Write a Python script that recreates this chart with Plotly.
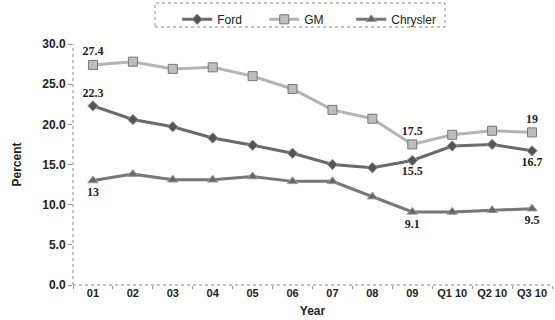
import plotly.graph_objects as go

categories = ["01", "02", "03", "04", "05", "06", "07", "08", "09", "Q1 10", "Q2 10", "Q3 10"]
ford = [22.3, 20.6, 19.7, 18.3, 17.4, 16.4, 15.0, 14.6, 15.5, 17.3, 17.5, 16.7]
gm = [27.4, 27.8, 26.9, 27.1, 26.0, 24.4, 21.8, 20.7, 17.5, 18.7, 19.2, 19.0]
chrysler = [13.0, 13.8, 13.1, 13.1, 13.5, 12.9, 12.9, 11.0, 9.1, 9.1, 9.3, 9.5]

ford_labels = ["22.3", "", "", "", "", "", "", "", "15.5", "", "", "16.7"]
gm_labels = ["27.4", "", "", "", "", "", "", "", "17.5", "", "", "19"]
chrysler_labels = ["13", "", "", "", "", "", "", "", "9.1", "", "", "9.5"]

ford_pos = ["top center"] * 8 + ["bottom center", "top center", "top center", "bottom center"]
gm_pos = ["top center"] * 12
chrysler_pos = ["bottom center"] * 12

def bold(lst):
    return ["<b>%s</b>" % s if s else "" for s in lst]

label_font = dict(family="Liberation Serif", size=12, color="#222222")

fig = go.Figure()
fig.add_trace(go.Scatter(x=categories, y=ford, name="Ford", mode="lines+markers+text",
                         line=dict(color="#6a6a6a", width=3),
                         marker=dict(symbol="diamond", size=8, color="#555555", line=dict(color="#999999", width=1)),
                         text=bold(ford_labels), textposition=ford_pos, textfont=label_font))
fig.add_trace(go.Scatter(x=categories, y=gm, name="GM", mode="lines+markers+text",
                         line=dict(color="#b4b4b4", width=3),
                         marker=dict(symbol="square", size=9, color="#bdbdbd", line=dict(color="#777777", width=1)),
                         text=bold(gm_labels), textposition=gm_pos, textfont=label_font))
fig.add_trace(go.Scatter(x=categories, y=chrysler, name="Chrysler", mode="lines+markers+text",
                         line=dict(color="#777777", width=3),
                         marker=dict(symbol="triangle-up", size=9, color="#666666", line=dict(color="#999999", width=1)),
                         text=bold(chrysler_labels), textposition=chrysler_pos, textfont=label_font))

tick_font = dict(family="Liberation Sans", size=11, color="#222222")

fig.update_layout(
    width=555, height=320,
    margin=dict(l=73, r=3, t=44, b=35),
    paper_bgcolor="white", plot_bgcolor="white",
    showlegend=True,
    legend=dict(orientation="h", x=0.49, xanchor="center", y=0.985, yanchor="top",
                yref="container", font=dict(family="Liberation Sans", size=12, color="#222222"),
                entrywidth=42, entrywidthmode="pixels", bgcolor="rgba(0,0,0,0)"),
    xaxis=dict(type="category", range=[-0.5, 11.5], showgrid=False, showline=False, zeroline=False,
               ticks="outside", tickson="boundaries", ticklen=3, tickcolor="#999999",
               tickfont=tick_font, tickangle=0, automargin=False,
               title=dict(text="<b>Year</b>", font=dict(family="Liberation Sans", size=12, color="#222222"), standoff=8)),
    yaxis=dict(range=[0, 30], tickvals=[0, 5, 10, 15, 20, 25, 30],
               ticktext=["<b>0.0</b>", "<b>5.0</b>", "<b>10.0</b>", "<b>15.0</b>", "<b>20.0</b>", "<b>25.0</b>", "<b>30.0</b>"],
               showgrid=False, showline=False, zeroline=False, ticks="outside", ticklen=4, tickcolor="#999999",
               tickfont=dict(family="Liberation Sans", size=12, color="#222222"), automargin=False,
               title=dict(text="<b>Percent</b>", font=dict(family="Liberation Sans", size=12, color="#222222"), standoff=18)),
)
fig.update_xaxes(ticktext=["<b>%s</b>" % c for c in categories], tickvals=categories)

# dotted axis lines
fig.add_shape(type="line", xref="paper", yref="paper", x0=0, x1=0, y0=0, y1=1,
              line=dict(color="#888888", width=1, dash="dot"))
fig.add_shape(type="line", xref="paper", yref="paper", x0=0, x1=1, y0=0, y1=0,
              line=dict(color="#888888", width=1, dash="dot"))
# legend box
fig.add_shape(type="rect", xref="paper", yref="paper", x0=(155 - 73) / 479, x1=(445 - 73) / 479,
              y0=(285 - 27) / 241, y1=(285 - 3) / 241,
              line=dict(color="#888888", width=1, dash="dot"))

fig.write_html("out.html")
